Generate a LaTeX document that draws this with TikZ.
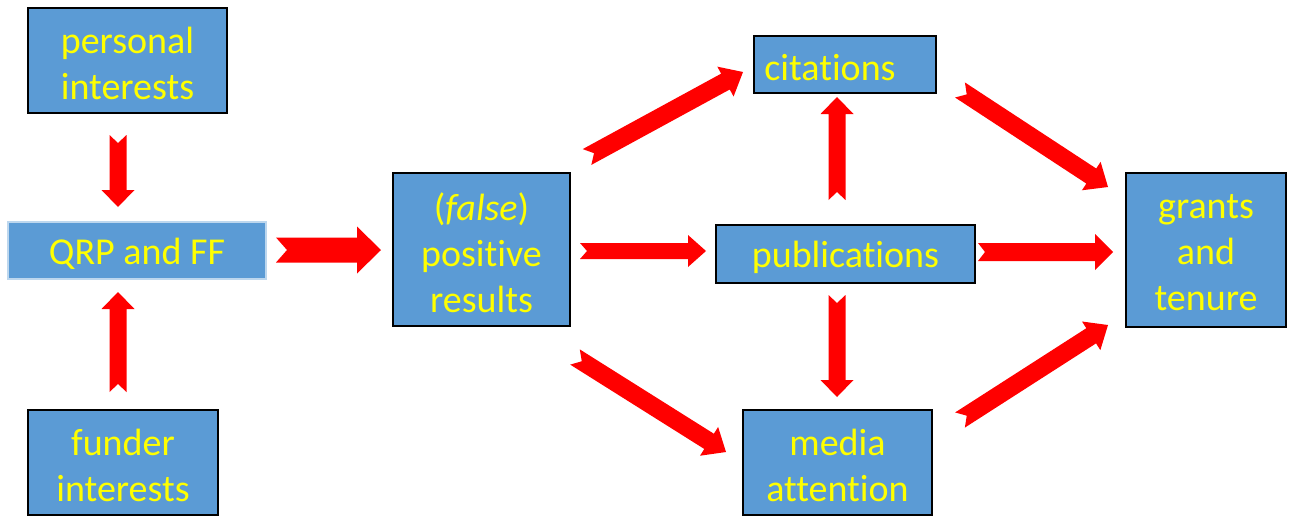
\documentclass[tikz,border=0pt]{standalone}
\usepackage{fontspec}
\setmainfont[Ligatures=NoCommon]{Carlito}
\usetikzlibrary{calc}
\definecolor{boxblue}{HTML}{5B9BD5}
\definecolor{lightrim}{HTML}{BDD7EE}
\definecolor{txtyellow}{HTML}{FFFF00}
\definecolor{arrred}{HTML}{FF0000}
\tikzset{
  box/.style={draw=black, line width=1.5pt, fill=boxblue, inner sep=0pt},
  qrpbox/.style={box, draw=lightrim, line width=2.5pt},
  boxtext/.style={text=txtyellow, inner sep=0pt, align=center, yshift=-3pt,
    font=\fontsize{38}{46}\selectfont},
  arrowfill/.style={fill=arrred, draw=none}
}
% notched block arrow from coordinate #1 to coordinate #2
% #3 shaft half width, #4 head half width, #5 head length, #6 notch depth
\newcommand\fatarr[6]{%
  \pgfpointdiff{\pgfpointanchor{#1}{center}}{\pgfpointanchor{#2}{center}}%
  \pgfgetlastxy{\fadx}{\fady}%
  \pgfmathsetmacro\falen{veclen(\fadx,\fady)}%
  \pgfmathsetmacro\faang{atan2(\fady,\fadx)}%
  \begin{scope}[shift={(#1)}, rotate=\faang]
    \fill[arrowfill] (0pt,#3pt) -- ({\falen pt-#5pt},#3pt) -- ({\falen pt-#5pt},#4pt)
      -- ({\falen pt},0pt) -- ({\falen pt-#5pt},-#4pt) -- ({\falen pt-#5pt},-#3pt)
      -- (0pt,-#3pt) -- (#6pt,0pt) -- cycle;
  \end{scope}%
}
\begin{document}
\begin{tikzpicture}[x=1pt,y=-1pt]
\useasboundingbox (0,0) rectangle (1292,517);
% boxes
\node[box, minimum width=199pt, minimum height=105pt,
  label={[boxtext]center:{personal\\interests}}] (pers) at (127.5,60.5) {};
\node[qrpbox, minimum width=258pt, minimum height=57pt,
  label={[boxtext]center:{QRP and FF}}] (qrp) at (137,250.5) {};
\node[box, minimum width=190pt, minimum height=105pt,
  label={[boxtext]center:{funder\\interests}}] (fund) at (123,462.5) {};
\node[box, minimum width=177pt, minimum height=153pt,
  label={[boxtext]center:{(\textit{false})\\positive\\results}}] (pos) at (481.5,249.5) {};
\node[box, minimum width=182pt, minimum height=57pt,
  label={[boxtext, xshift=-15pt]center:{citations}}] (cit) at (845,64.5) {};
\node[box, minimum width=259pt, minimum height=58pt,
  label={[boxtext]center:{publications}}] (pub) at (845.5,254) {};
\node[box, minimum width=189pt, minimum height=105pt,
  label={[boxtext]center:{media\\attention}}] (med) at (837.5,462.5) {};
\node[box, minimum width=160pt, minimum height=154pt,
  label={[boxtext]center:{grants\\and\\tenure}}] (gra) at (1206,250) {};
% arrow end points
\coordinate (a1s) at (118,135);  \coordinate (a1e) at (118,207);
\coordinate (a2s) at (118,392);  \coordinate (a2e) at (118,292);
\coordinate (a3s) at (276,250);  \coordinate (a3e) at (381,250);
\coordinate (a4s) at (580,251);  \coordinate (a4e) at (706,251);
\coordinate (a5s) at (587,157);  \coordinate (a5e) at (743,72);
\coordinate (a6s) at (575,357);  \coordinate (a6e) at (726,452);
\coordinate (a7s) at (837,200);  \coordinate (a7e) at (837,97);
\coordinate (a8s) at (837,295);  \coordinate (a8e) at (837,397);
\coordinate (a9s) at (978,252);  \coordinate (a9e) at (1113,252);
\coordinate (a10s) at (960,90);  \coordinate (a10e) at (1108,187);
\coordinate (a11s) at (960,420); \coordinate (a11e) at (1108,325);
% arrows
\fatarr{a1s}{a1e}{8.5}{16.5}{17}{8}
\fatarr{a2s}{a2e}{8.5}{16.5}{17}{8}
\fatarr{a3s}{a3e}{12.5}{23.5}{24}{11}
\fatarr{a4s}{a4e}{8}{16}{18}{7}
\fatarr{a5s}{a5e}{9}{17}{20}{8}
\fatarr{a6s}{a6e}{9}{17}{20}{8}
\fatarr{a7s}{a7e}{8.5}{16.5}{17}{8}
\fatarr{a8s}{a8e}{8.5}{16.5}{17}{8}
\fatarr{a9s}{a9e}{9}{18}{18}{7}
\fatarr{a10s}{a10e}{9}{17}{20}{8}
\fatarr{a11s}{a11e}{9}{17}{20}{8}
\end{tikzpicture}
\end{document}
